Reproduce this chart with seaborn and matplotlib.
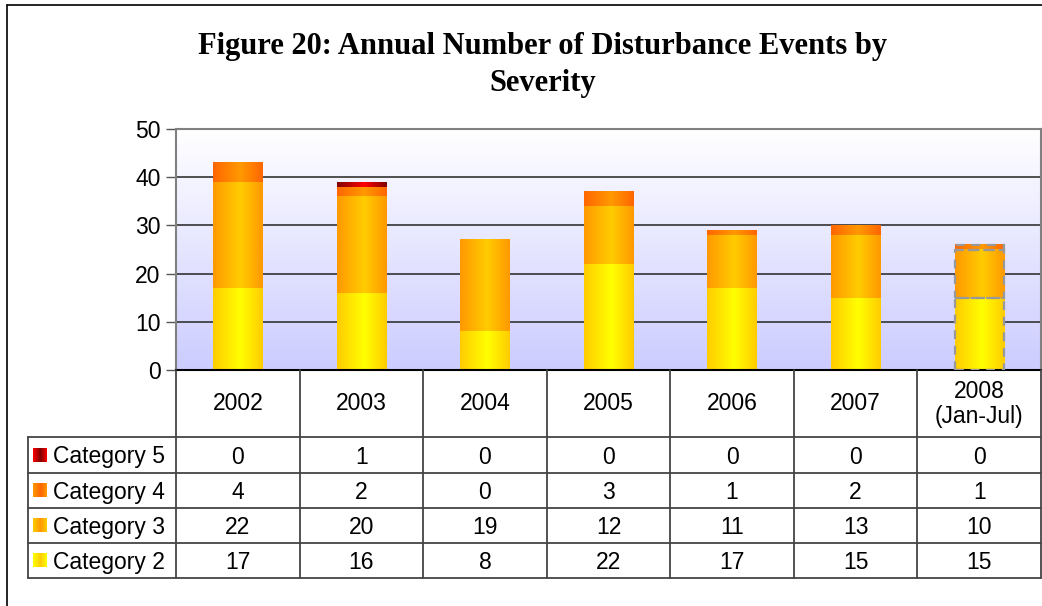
import numpy as np
import matplotlib.pyplot as plt
import seaborn as sns
from matplotlib.colors import LinearSegmentedColormap

# data
years = ["2002", "2003", "2004", "2005", "2006", "2007", "2008"]
year_labels = ["2002", "2003", "2004", "2005", "2006", "2007", "2008\n(Jan-Jul)"]
cat2 = [17, 16, 8, 22, 17, 15, 15]
cat3 = [22, 20, 19, 12, 11, 13, 10]
cat4 = [4, 2, 0, 3, 1, 2, 1]
cat5 = [0, 1, 0, 0, 0, 0, 0]

# name, values, edge colour, centre colour (bars are shaded left-right)
series = [
    ("Category 2", cat2, "#FFCC00", "#FFFF00"),
    ("Category 3", cat3, "#FF9900", "#FFCC00"),
    ("Category 4", cat4, "#FF6600", "#FF9900"),
    ("Category 5", cat5, "#800000", "#FF0000"),
]

sns.set_theme(style="white")
plt.rcParams["font.family"] = ["Liberation Sans", "DejaVu Sans"]
plt.rcParams["text.color"] = "black"
plt.rcParams["ytick.labelcolor"] = "black"

W, H = 1042, 606
fig = plt.figure(figsize=(W / 100, H / 100), dpi=100)


def fx(px):
    return px / W


def fy(py):
    return 1 - py / H


left_px, right_px, top_px, bot_px = 176, 1041, 129, 370
ax = fig.add_axes([fx(left_px), fy(bot_px), fx(right_px) - fx(left_px), fy(top_px) - fy(bot_px)])

hgrad = np.linspace(0, 1, 200).reshape(1, -1)


def bar_cmap(edge, mid):
    return LinearSegmentedColormap.from_list("b", [(0, edge), (0.55, mid), (1, edge)])


bottom = np.zeros(len(years))
for name, vals, edge, mid in series:
    n0 = len(ax.patches)
    sns.barplot(x=years, y=vals, order=years, bottom=bottom.copy(), color=edge,
                saturation=1, width=0.4, ax=ax, zorder=3)
    cmap = bar_cmap(edge, mid)
    for i, p in enumerate(ax.patches[n0:]):
        x0, y0 = p.get_x(), p.get_y()
        w, h = p.get_width(), p.get_height()
        p.set_facecolor("none")
        p.set_edgecolor("none")
        if h <= 0:
            continue
        ax.imshow(hgrad, cmap=cmap, aspect="auto", extent=[x0, x0 + w, y0, y0 + h],
                  zorder=2.5, interpolation="bilinear")
        if years[i] == "2008" and name != "Category 5":
            p.set_edgecolor("#999999")
            p.set_linestyle((0, (4, 3)))
            p.set_linewidth(1.6)
    bottom += np.array(vals)

# plot area background: lavender fading to white
bg = LinearSegmentedColormap.from_list("bg", ["#CCCCFF", "#FFFFFF"])
ax.imshow(np.linspace(0, 1, 256).reshape(-1, 1), cmap=bg, aspect="auto",
          extent=[-0.5, len(years) - 0.5, 0, 50], origin="lower", zorder=0)

ax.set_xlim(-0.5, len(years) - 0.5)
ax.set_ylim(0, 50)
ax.set_yticks(range(0, 51, 10))
ax.yaxis.grid(True, color="#333333", lw=1.2)
ax.set_axisbelow(True)
ax.tick_params(axis="y", left=True, length=7, width=1, color="#555555",
               labelsize=16.5, labelcolor="black", pad=4)
ax.tick_params(axis="x", bottom=False, labelbottom=False)
ax.set_xlabel("")
ax.set_ylabel("")
for s in ["left", "top", "right"]:
    ax.spines[s].set_color("#808080")
    ax.spines[s].set_linewidth(1.5)
ax.spines["bottom"].set_color("black")
ax.spines["bottom"].set_linewidth(1.5)

# data table below the chart, drawn in pixel coordinates
tab = fig.add_axes([0, 0, 1, 1], facecolor="none")
tab.set_xlim(0, W)
tab.set_ylim(H, 0)
tab.axis("off")

col_w = (right_px - left_px) / len(years)
row_edges = [437, 473, 508, 543, 578]
line_kw = dict(color="#444444", lw=1.3)

for k in range(len(years) + 1):
    xk = left_px + k * col_w
    tab.plot([xk, xk], [bot_px, row_edges[-1]], **line_kw)
for ye in row_edges:
    tab.plot([28, right_px], [ye, ye], **line_kw)
tab.plot([28, 28], [row_edges[0], row_edges[-1]], **line_kw)

for k, lab in enumerate(year_labels):
    tab.text(left_px + (k + 0.5) * col_w, 404, lab, ha="center", va="center",
             fontsize=16.5, linespacing=1.15)

for r, (name, vals, edge, mid) in enumerate(reversed(series)):
    yc = (row_edges[r] + row_edges[r + 1]) / 2
    tab.imshow(hgrad, cmap=bar_cmap(mid, edge), aspect="auto",
               extent=[33, 47, yc + 7, yc - 7], interpolation="bilinear")
    tab.text(53, yc + 2, name, ha="left", va="center", fontsize=16.5)
    for k, v in enumerate(vals):
        tab.text(left_px + (k + 0.5) * col_w, yc + 2, str(v), ha="center",
                 va="center", fontsize=16.5)
tab.set_xlim(0, W)
tab.set_ylim(H, 0)

# outer frame
tab.plot([7, 7], [5, H], color="black", lw=1.2)
tab.plot([7, W], [5, 5], color="black", lw=1.2)

fig.text(fx(543), fy(65), "Figure 20: Annual Number of Disturbance Events by\nSeverity",
         ha="center", va="center", fontsize=22, fontweight="bold", color="black",
         family=["Liberation Serif", "DejaVu Serif"], linespacing=1.4)

fig.savefig("out.png", dpi=100)
